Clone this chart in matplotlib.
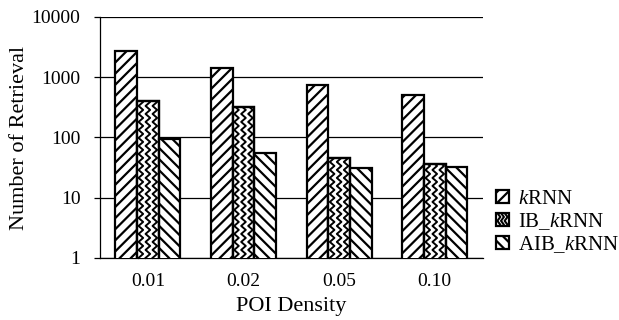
import numpy as np
import matplotlib
matplotlib.use('Agg')
import matplotlib.pyplot as plt
from matplotlib.patches import Rectangle
from matplotlib.lines import Line2D
from matplotlib.legend_handler import HandlerBase

plt.rcParams['font.family'] = ['Liberation Serif', 'DejaVu Serif']
plt.rcParams['mathtext.fontset'] = 'custom'
plt.rcParams['mathtext.it'] = 'Liberation Serif:italic'
plt.rcParams['mathtext.rm'] = 'Liberation Serif'
plt.rcParams['hatch.linewidth'] = 1.6

# data
densities = ['0.01', '0.02', '0.05', '0.10']
series_names = ['$k$RNN', 'IB_$k$RNN', 'AIB_$k$RNN']
krnn = [2700, 1400, 750, 500]
ib_krnn = [410, 320, 45, 36]
aib_krnn = [96, 56, 31, 32]

bar_w = 0.226

fig = plt.figure(figsize=(6.19, 3.2), dpi=100)
ax = fig.add_axes([0.1616, 0.194, 0.618, 0.753])
ax.set_yscale('log')
ax.set_ylim(1, 10000)
ax.set_xlim(-0.5, len(densities) - 0.5)

x = np.arange(len(densities))
b1 = ax.bar(x - bar_w, krnn, bar_w, color='white', edgecolor='black', lw=1.6, hatch='///', zorder=3)
b2 = ax.bar(x, ib_krnn, bar_w, color='white', edgecolor='black', lw=1.6, zorder=3)
b3 = ax.bar(x + bar_w, aib_krnn, bar_w, color='white', edgecolor='black', lw=1.6, hatch='\\\\\\', zorder=3)


# zigzag fill for the IB bars (no such hatch in matplotlib)
def zigzag(xc, amp, period, n):
    ys = np.arange(n + 1) * period / 2.0
    xs = xc + amp * np.where(np.arange(n + 1) % 2 == 0, -1, 1)
    return xs, ys


ax_h = ax.bbox.height
ax_w = ax.bbox.width
x0, x1 = ax.get_xlim()
period = 8.0 / ax_h
amp = 2.3 / ax_w
n = int(2 / period) + 2
for rect, xi in zip(b2, x):
    cx = (xi - x0) / (x1 - x0)
    for off in [-7.0, 0.0, 7.0]:
        xs, ys = zigzag(cx + off / ax_w, amp, period, n)
        ln = Line2D(xs, ys, color='black', lw=1.4, transform=ax.transAxes, zorder=3.5)
        ax.add_line(ln)
        ln.set_clip_path(rect)
    # redraw the edge on top
    ax.bar(xi, rect.get_height(), bar_w, color='none', edgecolor='black', lw=1.6, zorder=4)

ax.yaxis.grid(True, color='black', lw=0.9, zorder=0)
ax.set_axisbelow(True)
ax.yaxis.set_minor_locator(matplotlib.ticker.NullLocator())
ax.set_yticks([1, 10, 100, 1000, 10000])
ax.set_yticklabels(['1', '10', '100', '1000', '10000'], fontsize=14)
ax.set_xticks(x)
ax.set_xticklabels(densities, fontsize=14)
ax.tick_params(axis='x', length=0, pad=11)
ax.tick_params(axis='y', length=4, width=0.9, pad=10, direction='out')
ax.spines['top'].set_visible(False)
ax.spines['right'].set_visible(False)
ax.spines['left'].set_linewidth(0.9)
ax.spines['bottom'].set_linewidth(0.9)
ax.set_xlabel('POI Density', fontsize=16, labelpad=5)
ax.set_ylabel('Number of Retrieval', fontsize=16, labelpad=2)


class ZigzagHandler(HandlerBase):
    def create_artists(self, legend, orig_handle, xdescent, ydescent, width, height, fontsize, trans):
        r = Rectangle((-xdescent, -ydescent), width, height, facecolor='white',
                      edgecolor='black', lw=1.6, transform=trans)
        arts = [r]
        for off in [0.2, 0.5, 0.8]:
            xs, ys = zigzag(-xdescent + off * width, width * 0.12, height * 0.6, 6)
            ln = Line2D(xs, ys - ydescent - height * 0.2, color='black', lw=1.5, transform=trans)
            ln.set_clip_path(r)
            arts.append(ln)
        return arts


h1 = Rectangle((0, 0), 1, 1, facecolor='white', edgecolor='black', lw=1.6, hatch='///')
h2 = Rectangle((0, 0), 1, 1, facecolor='white', edgecolor='black', lw=1.6)
h3 = Rectangle((0, 0), 1, 1, facecolor='white', edgecolor='black', lw=1.6, hatch='\\\\\\')
fig.legend([h1, h2, h3], series_names, loc='center left', bbox_to_anchor=(0.802, 0.305),
           bbox_transform=fig.transFigure, frameon=False, fontsize=15, handlelength=0.58,
           handleheight=0.58, handletextpad=0.45, labelspacing=0.1, borderpad=0, borderaxespad=0,
           handler_map={h2: ZigzagHandler()})

fig.savefig('out.png', dpi=100)
